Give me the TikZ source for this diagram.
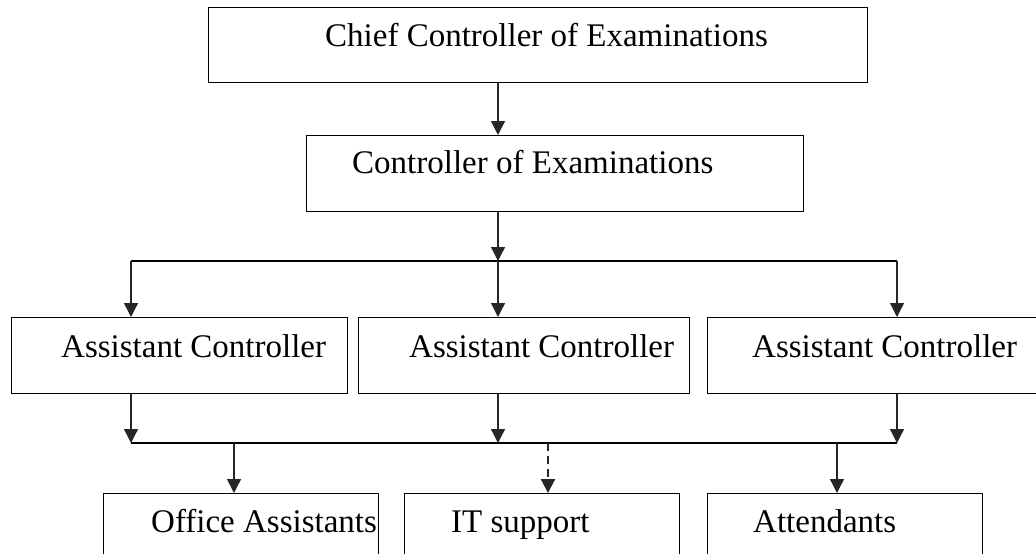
\documentclass[tikz,border=0pt]{standalone}
\usepackage{fontspec}
\setmainfont{Liberation Serif}
\usetikzlibrary{arrows.meta,calc}
\begin{document}
\begin{tikzpicture}[x=1pt,y=-1pt,
  box/.style={draw=black, line width=1.3pt, rectangle, inner sep=0pt, anchor=north west},
  lbl/.style={anchor=base west, inner sep=0pt, font=\fontsize{33}{40}\selectfont},
  arr/.style={line width=1.3pt, draw=black!85, -{Triangle[width=14pt,length=14pt]}},
  bus/.style={line width=2.2pt},
  dashedarr/.style={arr, line width=2.2pt, dash pattern=on 8pt off 5pt},
]
\useasboundingbox (0,0) rectangle (1036,554);
\clip (0,0) rectangle (1036,554);

% boxes
\node[box, minimum width=659pt, minimum height=75pt] (chief) at (208,7) {};
\node[box, minimum width=497pt, minimum height=76pt] (coe) at (306,135) {};
\node[box, minimum width=336pt, minimum height=76pt] (ac1) at (11,317) {};
\node[box, minimum width=331pt, minimum height=76pt] (ac2) at (358,317) {};
\node[box, minimum width=360pt, minimum height=76pt] (ac3) at (707,317) {};
\node[box, minimum width=275pt, minimum height=80pt] (oa) at (103,493) {};
\node[box, minimum width=275pt, minimum height=80pt] (its) at (404,493) {};
\node[box, minimum width=275pt, minimum height=80pt] (att) at (707,493) {};

% labels
\node[lbl] (chiefT) at ($(chief.north west)+(117,39)$) {Chief Controller of Examinations};
\node[lbl] (coeT) at ($(coe.north west)+(46,38)$) {Controller of Examinations};
\node[lbl] (ac1T) at ($(ac1.north west)+(50,40)$) {Assistant Controller};
\node[lbl] (ac2T) at ($(ac2.north west)+(51,40)$) {Assistant Controller};
\node[lbl] (ac3T) at ($(ac3.north west)+(45,40)$) {Assistant Controller};
\node[lbl] (oaT) at ($(oa.north west)+(48,39)$) {Office Assistants};
\node[lbl] (itsT) at ($(its.north west)+(47,39)$) {IT support};
\node[lbl] (attT) at ($(att.north west)+(46,39)$) {Attendants};

% junction points
\coordinate (spine) at (498,0);
\coordinate (busL) at (131,261);
\coordinate (busR) at (897,261);
\coordinate (lowL) at (131,443);
\coordinate (lowR) at (897,443);
\coordinate (d1) at (234,443);
\coordinate (d2) at (548,443);
\coordinate (d3) at (837,443);

% upper level
\draw[arr] (spine |- chief.south) -- (spine |- coe.north);
\draw[arr] (spine |- coe.south) -- (spine |- busL);
\draw[bus] (busL) -- (busR);
\draw[arr] (busL) -- (busL |- ac1.north);
\draw[arr] (spine |- busL) -- (spine |- ac2.north);
\draw[arr] (busR) -- (busR |- ac3.north);

% lower level
\draw[arr] (lowL |- ac1.south) -- (lowL);
\draw[arr] (spine |- ac2.south) -- (spine |- lowL);
\draw[arr] (lowR |- ac3.south) -- (lowR);
\draw[bus] (lowL) -- (lowR);
\draw[arr] (d1) -- (d1 |- oa.north);
\draw[dashedarr] (d2) -- (d2 |- its.north);
\draw[arr] (d3) -- (d3 |- att.north);
\end{tikzpicture}
\end{document}
